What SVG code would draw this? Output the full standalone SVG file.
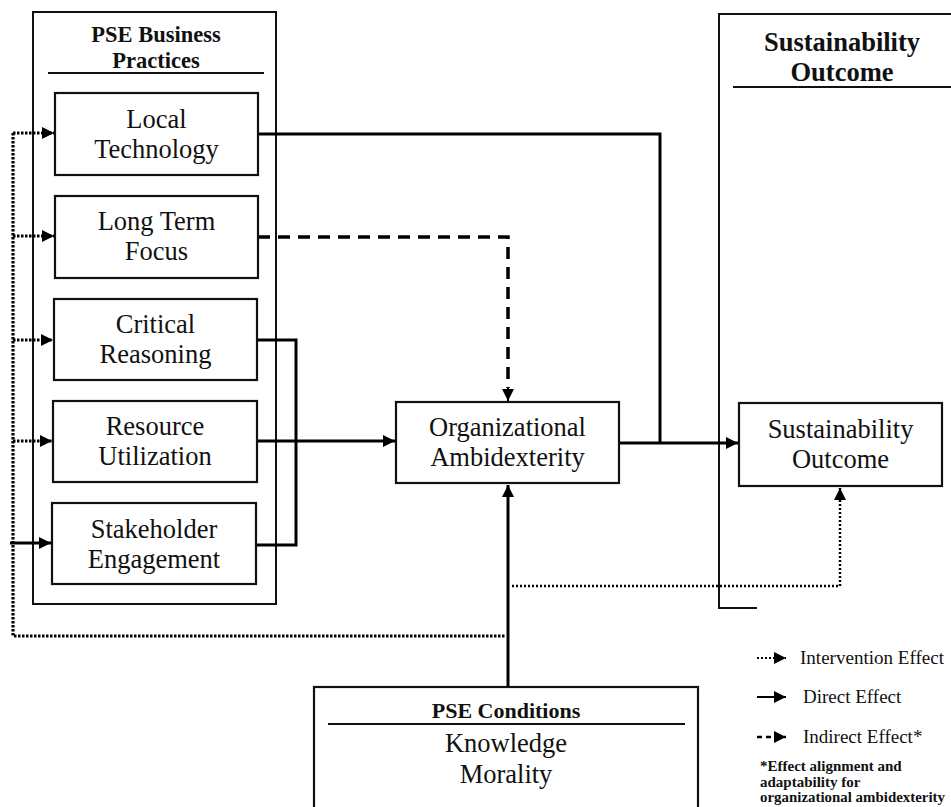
<svg xmlns="http://www.w3.org/2000/svg" width="951" height="807" viewBox="0 0 951 807">
  <defs>
    <marker id="head" viewBox="0 0 10 10" refX="10" refY="5" markerWidth="12" markerHeight="12" markerUnits="userSpaceOnUse" orient="auto">
      <path d="M0,0 L10,5 L0,10 Z" fill="#000"/>
    </marker>
  </defs>
  <style>
    text { font-family: "Liberation Serif", "Times New Roman", serif; fill: #111; text-anchor: middle; }
    .box { fill: #fff; stroke: #111; stroke-width: 2.2; }
    .frame { fill: none; stroke: #111; stroke-width: 2; }
    .rule { stroke: #111; stroke-width: 1.8; }
    .lbl { font-size: 26.5px; }
    .hdr { font-size: 22.5px; font-weight: bold; }
    .direct { fill: none; stroke: #000; stroke-width: 3; }
    .indirect { fill: none; stroke: #000; stroke-width: 3.5; stroke-dasharray: 12 8; }
    .interv { fill: none; stroke: #000; stroke-width: 3.2; stroke-dasharray: 2.5 1.5; }
    .interv-thin { fill: none; stroke: #000; stroke-width: 2.5; stroke-dasharray: 2 2; }
    .legend { font-size: 19px; text-anchor: start; }
    .note { font-size: 15px; font-weight: bold; text-anchor: start; }
  </style>

  <!-- PSE Business Practices frame -->
  <g id="practices">
    <rect class="frame" x="33" y="12" width="243" height="592"/>
    <text class="hdr" x="156" y="42">PSE Business</text>
    <text class="hdr" x="156" y="68">Practices</text>
    <line class="rule" x1="48" y1="73" x2="264" y2="73"/>
  </g>

  <!-- Sustainability Outcome frame -->
  <g id="outcome-frame">
    <path class="frame" d="M951,14 H719 V608 H757"/>
    <text class="hdr" x="842" y="51" style="font-size:26.5px">Sustainability</text>
    <text class="hdr" x="842" y="81" style="font-size:26.5px">Outcome</text>
    <line class="rule" x1="733" y1="87" x2="951" y2="87"/>
  </g>

  <!-- Connectors -->
  <g id="connectors">
    <!-- intervention effect (dotted) -->
    <path class="interv" d="M13,133 V636 H506"/>
    <line class="interv" x1="13" y1="133" x2="54" y2="133" marker-end="url(#head)"/>
    <line class="interv" x1="13" y1="236" x2="54" y2="236" marker-end="url(#head)"/>
    <line class="interv" x1="13" y1="340" x2="53" y2="340" marker-end="url(#head)"/>
    <line class="interv" x1="13" y1="441" x2="52" y2="441" marker-end="url(#head)"/>
    <path class="interv-thin" d="M512,586 H840 V488" marker-end="url(#head)"/>
    <!-- direct effects -->
    <line class="direct" x1="10" y1="543" x2="51" y2="543" marker-end="url(#head)"/>
    <path class="direct" d="M258,134 H660 V443"/>
    <path class="direct" d="M257,340 H296 V545 H256"/>
    <line class="direct" x1="257" y1="441" x2="395" y2="441" marker-end="url(#head)"/>
    <line class="direct" x1="619" y1="443" x2="738" y2="443" marker-end="url(#head)"/>
    <line class="direct" x1="508" y1="687" x2="508" y2="485" marker-end="url(#head)"/>
    <!-- indirect effect (dashed) -->
    <path class="indirect" d="M258,237 H508 V388"/>
    <line class="direct" x1="508" y1="388" x2="508" y2="401" marker-end="url(#head)" style="stroke-width:2"/>
  </g>

  <g id="local-technology">
    <rect class="box" x="55" y="93" width="203" height="82"/>
    <text class="lbl" x="156.5" y="128">Local</text>
    <text class="lbl" x="156.5" y="158">Technology</text>
  </g>
  <g id="long-term-focus">
    <rect class="box" x="55" y="196" width="203" height="82"/>
    <text class="lbl" x="156.5" y="230">Long Term</text>
    <text class="lbl" x="156.5" y="260">Focus</text>
  </g>
  <g id="critical-reasoning">
    <rect class="box" x="54" y="299" width="203" height="81"/>
    <text class="lbl" x="155.5" y="333">Critical</text>
    <text class="lbl" x="155.5" y="363">Reasoning</text>
  </g>
  <g id="resource-utilization">
    <rect class="box" x="53" y="401" width="204" height="81"/>
    <text class="lbl" x="155" y="435">Resource</text>
    <text class="lbl" x="155" y="465">Utilization</text>
  </g>
  <g id="stakeholder-engagement">
    <rect class="box" x="52" y="503" width="204" height="81"/>
    <text class="lbl" x="154" y="538">Stakeholder</text>
    <text class="lbl" x="154" y="568">Engagement</text>
  </g>

  <g id="organizational-ambidexterity">
    <rect class="box" x="396" y="402" width="223" height="81"/>
    <text class="lbl" x="507.5" y="436">Organizational</text>
    <text class="lbl" x="507.5" y="466">Ambidexterity</text>
  </g>

  <g id="sustainability-outcome">
    <rect class="box" x="739" y="403" width="203" height="83"/>
    <text class="lbl" x="840.5" y="438">Sustainability</text>
    <text class="lbl" x="840.5" y="468">Outcome</text>
  </g>

  <g id="pse-conditions">
    <rect class="box" x="314" y="687" width="384" height="140"/>
    <text class="hdr" x="506" y="718" style="font-size:22px">PSE Conditions</text>
    <line class="rule" x1="328" y1="724" x2="685" y2="724"/>
    <text class="lbl" x="506" y="752">Knowledge</text>
    <text class="lbl" x="506" y="783">Morality</text>
  </g>

  <!-- Legend -->
  <g id="legend">
    <line class="interv-thin" x1="757" y1="658" x2="786" y2="658" style="stroke-width:2" marker-end="url(#head)"/>
    <text class="legend" x="800" y="664" textLength="144" lengthAdjust="spacingAndGlyphs">Intervention Effect</text>
    <line class="direct" x1="757" y1="697" x2="786" y2="697" style="stroke-width:2" marker-end="url(#head)"/>
    <text class="legend" x="803" y="703">Direct Effect</text>
    <line class="direct" x1="757" y1="737" x2="786" y2="737" style="stroke-width:2.5;stroke-dasharray:5 4" marker-end="url(#head)"/>
    <text class="legend" x="803" y="743">Indirect Effect*</text>
    <text class="note" x="760" y="771">*Effect alignment and</text>
    <text class="note" x="760" y="787">adaptability for</text>
    <text class="note" x="760" y="802" textLength="185" lengthAdjust="spacingAndGlyphs">organizational ambidexterity</text>
  </g>
</svg>
